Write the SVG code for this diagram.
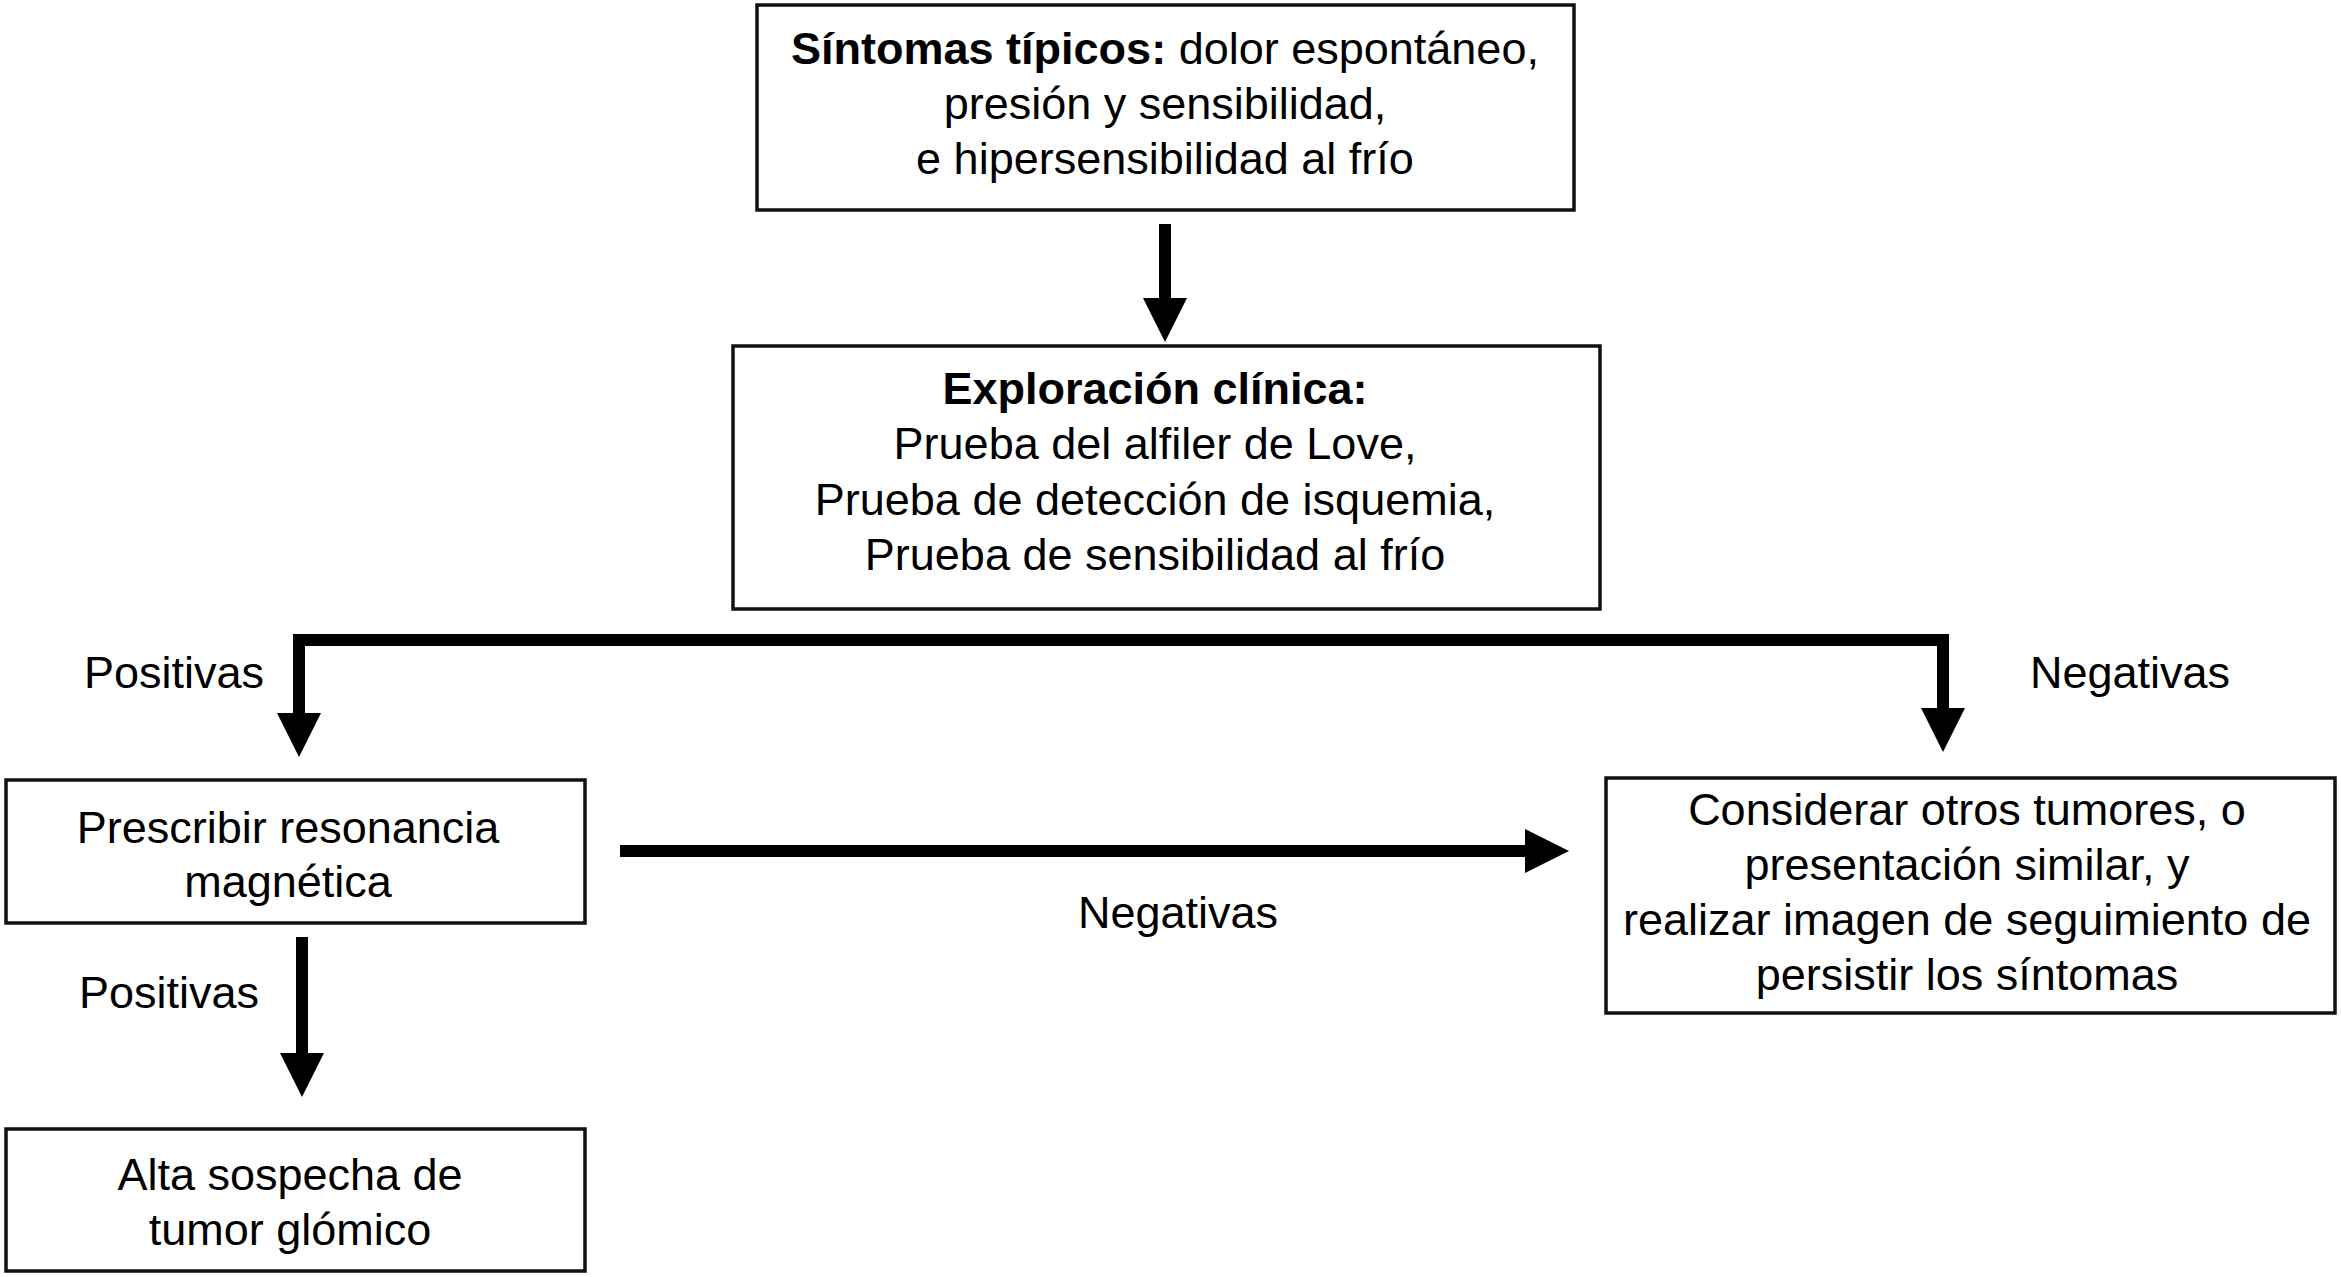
<svg xmlns="http://www.w3.org/2000/svg" width="2341" height="1277" viewBox="0 0 2341 1277">
<style>
.box{fill:#fff;stroke:#111;stroke-width:3.5}
.t{font-family:"Liberation Sans",Arial,sans-serif;font-size:45px;fill:#000;text-anchor:middle}
.lbl{font-family:"Liberation Sans",Arial,sans-serif;font-size:45px;fill:#000}
.b{font-weight:bold}
.c{fill:none;stroke:#000;stroke-width:12;stroke-linejoin:miter}
</style>
<defs>
<marker id="ah" markerUnits="userSpaceOnUse" viewBox="0 0 44 44" refX="10" refY="22" markerWidth="44" markerHeight="44" orient="auto">
<path d="M0,0 L44,22 L0,44 Z" fill="#000"/>
</marker>
</defs>
<rect width="2341" height="1277" fill="#fff"/>
<g id="connectors">
<path class="c" d="M1165,224 L1165,308" marker-end="url(#ah)"/>
<path class="c" d="M1165,640 L299,640 L299,723" marker-end="url(#ah)"/>
<path class="c" d="M1165,640 L1943,640 L1943,718" marker-end="url(#ah)"/>
<path class="c" d="M620,851 L1535,851" marker-end="url(#ah)"/>
<path class="c" d="M302,937 L302,1063" marker-end="url(#ah)"/>
<text class="lbl" x="84" y="688">Positivas</text>
<text class="lbl" x="2030" y="688">Negativas</text>
<text class="lbl" x="1078" y="928">Negativas</text>
<text class="lbl" x="79" y="1008">Positivas</text>
</g>
<g id="sintomas">
<rect class="box" x="757" y="5" width="817" height="205"/>
<text class="t" x="1165" y="64"><tspan class="b">Síntomas típicos:</tspan> dolor espontáneo,</text>
<text class="t" x="1165" y="119">presión y sensibilidad,</text>
<text class="t" x="1165" y="174">e hipersensibilidad al frío</text>
</g>
<g id="exploracion">
<rect class="box" x="733" y="346" width="867" height="263"/>
<text class="t b" x="1155" y="404">Exploración clínica:</text>
<text class="t" x="1155" y="459">Prueba del alfiler de Love,</text>
<text class="t" x="1155" y="515">Prueba de detección de isquemia,</text>
<text class="t" x="1155" y="570">Prueba de sensibilidad al frío</text>
</g>
<g id="resonancia">
<rect class="box" x="6" y="780" width="579" height="143"/>
<text class="t" x="288" y="843">Prescribir resonancia</text>
<text class="t" x="288" y="897">magnética</text>
</g>
<g id="otros">
<rect class="box" x="1606" y="778" width="729" height="235"/>
<text class="t" x="1967" y="825">Considerar otros tumores, o</text>
<text class="t" x="1967" y="880">presentación similar, y</text>
<text class="t" x="1967" y="935">realizar imagen de seguimiento de</text>
<text class="t" x="1967" y="990">persistir los síntomas</text>
</g>
<g id="glomico">
<rect class="box" x="6" y="1129" width="579" height="142"/>
<text class="t" x="290" y="1190">Alta sospecha de</text>
<text class="t" x="290" y="1245">tumor glómico</text>
</g>
</svg>
